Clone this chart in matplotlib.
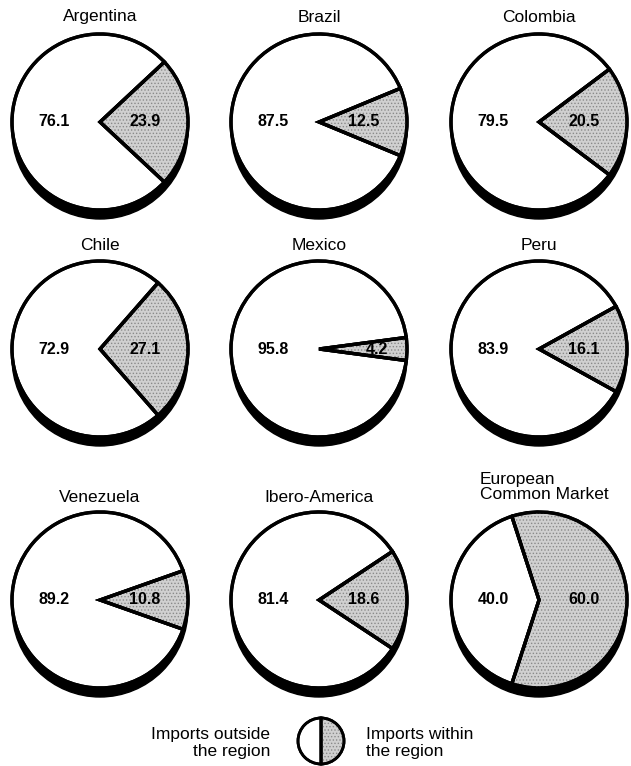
import matplotlib
matplotlib.use("Agg")
import matplotlib.pyplot as plt
from matplotlib.patches import Circle, Wedge

plt.rcParams['font.family'] = ['Liberation Sans', 'DejaVu Sans']

regions = ["Argentina", "Brazil", "Colombia", "Chile", "Mexico", "Peru",
           "Venezuela", "Ibero-America", "European\nCommon Market"]
outside = [76.1, 87.5, 79.5, 72.9, 95.8, 83.9, 89.2, 81.4, 40.0]
within = [23.9, 12.5, 20.5, 27.1, 4.2, 16.1, 10.8, 18.6, 60.0]
legend_labels = ["Imports outside\nthe region", "Imports within\nthe region"]

W, H = 631, 766
fig = plt.figure(figsize=(W / 100, H / 100), dpi=100)
ax = fig.add_axes([0, 0, 1, 1])

col_x = [100, 319, 539]
row_y = [122, 349, 600]
title_y = [17, 246, 497]
R = 88
SH = 9
GRAY = '#d0d0d0'
plt.rcParams['hatch.linewidth'] = 0.6


def stippled_pie(vals, cx, cy, r, start, shadow=True, lw=2.4):
    wedges, _ = ax.pie(vals, startangle=start, counterclock=True,
                       center=(cx, H - cy), radius=r, frame=True,
                       colors=[GRAY, 'white'],
                       wedgeprops=dict(edgecolor='black', linewidth=lw))
    w = wedges[0]
    ax.add_patch(Wedge(w.center, w.r, w.theta1, w.theta2, facecolor='none',
                       edgecolor='#8a8a8a', hatch='.....', linewidth=0,
                       zorder=1.5))
    for wd in wedges:
        wd.set_zorder(1)
        ax.add_patch(Wedge(wd.center, wd.r, wd.theta1, wd.theta2,
                           facecolor='none', edgecolor='black',
                           linewidth=lw, zorder=2))
    if shadow:
        ax.add_patch(Circle((cx, H - cy - SH), r, facecolor='black',
                            edgecolor='black', zorder=0.5))
    return wedges


for i, name in enumerate(regions):
    r, c = divmod(i, 3)
    cx, cy = col_x[c], row_y[r]
    start = -within[i] * 3.6 / 2
    stippled_pie([within[i], outside[i]], cx, cy, R, start)
    off_in = 58 if within[i] < 8 else 45
    ax.text(cx + off_in, H - cy, f"{within[i]:.1f}", ha='center', va='center',
            fontsize=11.5, fontweight='bold', zorder=3)
    ax.text(cx - 46, H - cy, f"{outside[i]:.1f}", ha='center', va='center',
            fontsize=11.5, fontweight='bold', zorder=3)
    if "\n" in name:
        ax.text(cx - 59, H - 487, name, ha='left', va='center',
                fontsize=12.5, linespacing=1.0)
    else:
        ax.text(cx, H - title_y[r], name, ha='center', va='center',
                fontsize=12.5)

# legend
stippled_pie([50, 50], 321, 741, 23, -90, shadow=False, lw=2.0)
ax.text(270, H - 743, legend_labels[0], ha='right', va='center',
        fontsize=12.5, linespacing=1.15, multialignment='right')
ax.text(366, H - 743, legend_labels[1], ha='left', va='center',
        fontsize=12.5, linespacing=1.15, multialignment='left')

ax.set_xlim(0, W)
ax.set_ylim(0, H)
ax.set_aspect('equal')
ax.axis('off')
fig.savefig("out.png", dpi=100, facecolor='white')
